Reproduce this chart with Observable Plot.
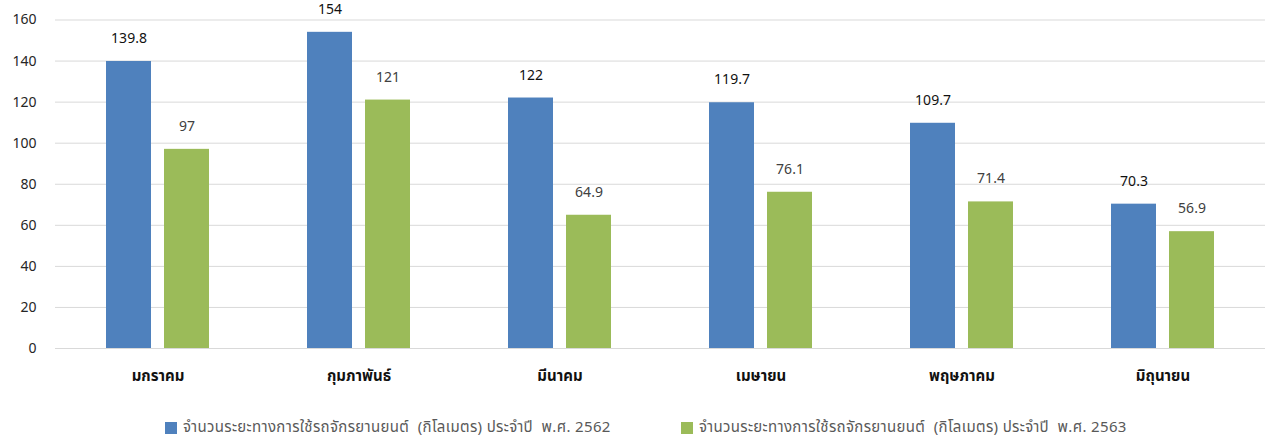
<!DOCTYPE html>
<html>
<head>
<meta charset="utf-8">
<script src="https://cdn.jsdelivr.net/npm/d3@7"></script>
<script src="https://cdn.jsdelivr.net/npm/@observablehq/plot@0.6"></script>
<style>
  html, body { margin: 0; padding: 0; background: #fff; }
  body { width: 1276px; height: 439px; overflow: hidden; font-family: "Noto Sans Thai", "Noto Sans", "DejaVu Sans", sans-serif; }
  #legend { position: relative; height: 34px; font-size: 15px; color: #595959; }
  .item { position: absolute; top: 11px; display: flex; align-items: center; gap: 6px; white-space: pre; letter-spacing: 0.35px; }
  .sw { width: 12px; height: 12px; display: inline-block; }
</style>
</head>
<body>
<div id="chart"></div>
<div id="legend"></div>
<script>
const months = ["มกราคม", "กุมภาพันธ์", "มีนาคม", "เมษายน", "พฤษภาคม", "มิถุนายน"];
const series = [
  "จำนวนระยะทางการใช้รถจักรยานยนต์  (กิโลเมตร) ประจำปี  พ.ศ. 2562",
  "จำนวนระยะทางการใช้รถจักรยานยนต์  (กิโลเมตร) ประจำปี  พ.ศ. 2563"
];
const values2562 = [139.8, 154, 122, 119.7, 109.7, 70.3];
const values2563 = [97, 121, 64.9, 76.1, 71.4, 56.9];
const yTicks = [0, 20, 40, 60, 80, 100, 120, 140, 160];
const colors = ["#4F81BD", "#9BBB59"];

const d1 = months.map((m, i) => ({month: m, value: values2562[i]}));
const d2 = months.map((m, i) => ({month: m, value: values2563[i]}));

const chart = Plot.plot({
  width: 1276,
  height: 405,
  marginLeft: 55,
  marginRight: 11,
  marginTop: 19.5,
  marginBottom: 57,
  style: {fontFamily: '"Noto Sans Thai", "Noto Sans", "DejaVu Sans", sans-serif', background: "#fff", overflow: "visible"},
  x: {domain: months, paddingInner: 0.489, paddingOuter: 0.2445, label: null},
  y: {domain: [0, 160], label: null},
  marks: [
    Plot.ruleY(yTicks, {stroke: "#d9d9d9", strokeWidth: 1}),
    Plot.barY(d1, {x: "month", y: "value", fill: colors[0], insetRight: 58}),
    Plot.barY(d2, {x: "month", y: "value", fill: colors[1], insetLeft: 58}),
    Plot.text(d1, {x: "month", y: "value", text: d => String(d.value), dx: -29, dy: -23, fontSize: 14, fill: "#111"}),
    Plot.text(d2, {x: "month", y: "value", text: d => String(d.value), dx: 29, dy: -23, fontSize: 14, fill: "#404040"}),
    Plot.axisY({ticks: yTicks, tickSize: 0, tickPadding: 19, fontSize: 14, fill: "#262626", label: null}),
    Plot.axisX({tickSize: 0, tickPadding: 22, fontSize: 15, fontWeight: "bold", fill: "#111", label: null})
  ]
});
document.getElementById("chart").appendChild(chart);

const legend = document.getElementById("legend");
const lefts = [165, 681];
series.forEach((s, i) => {
  const item = document.createElement("div");
  item.className = "item";
  item.style.left = lefts[i] + "px";
  item.innerHTML = `<span class="sw" style="background:${colors[i]}"></span><span>${s}</span>`;
  legend.appendChild(item);
});
</script>
</body>
</html>
